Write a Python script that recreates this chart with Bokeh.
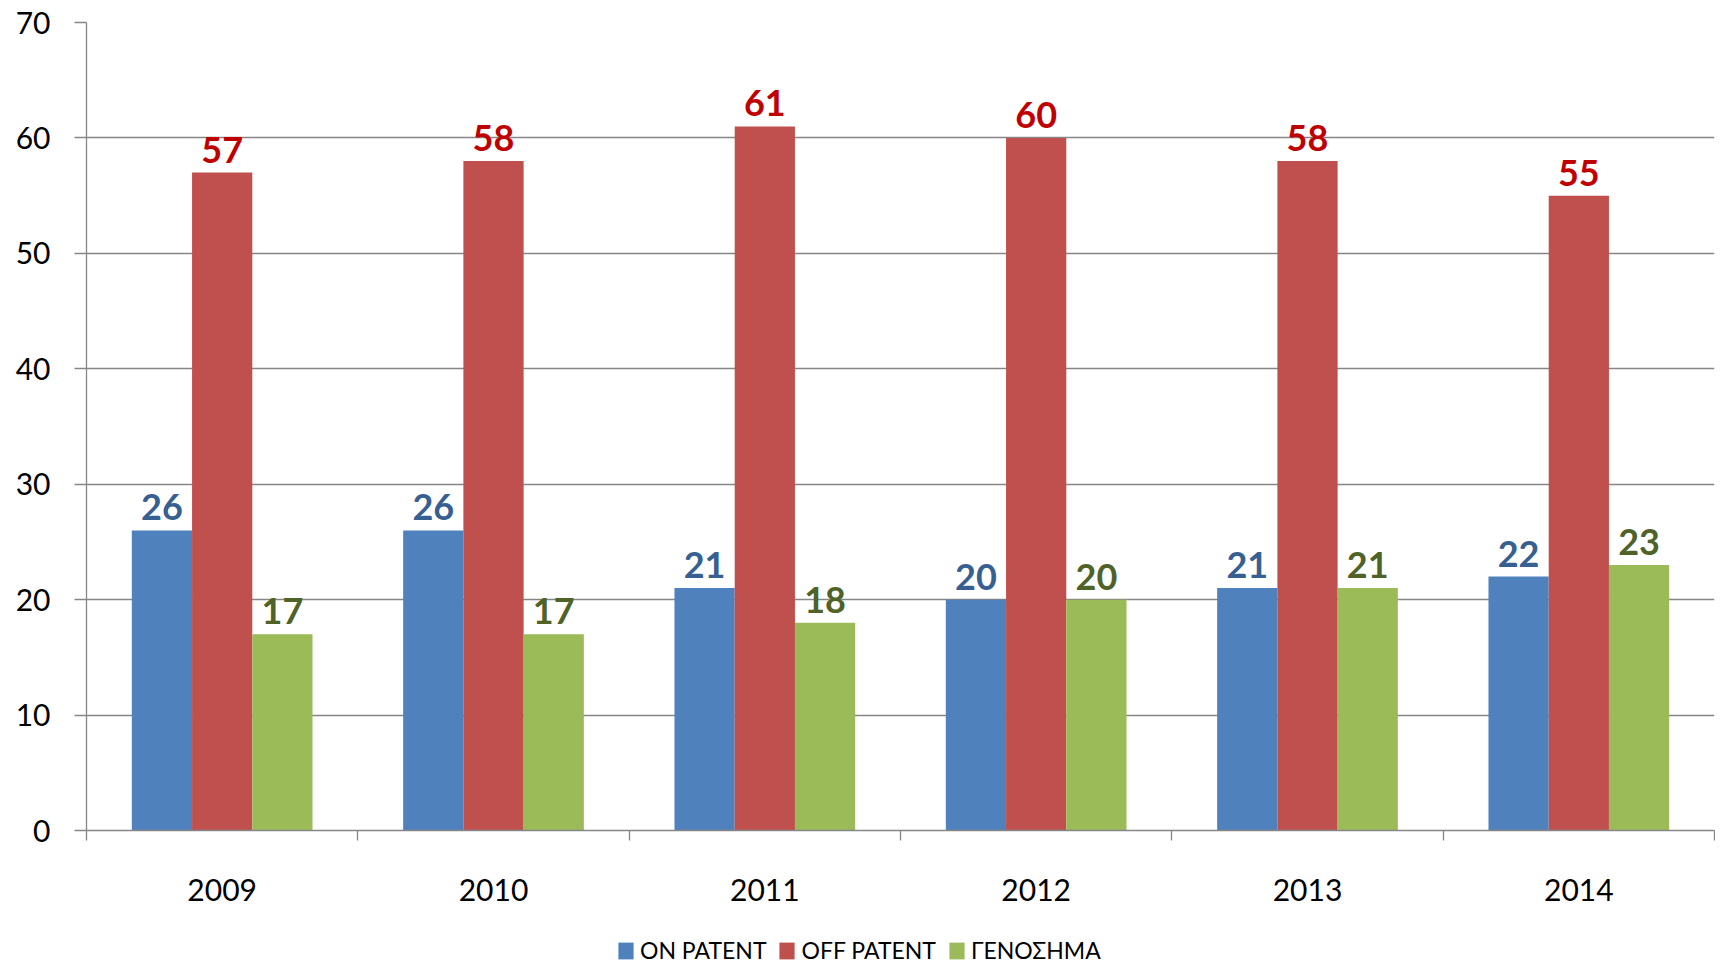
from bokeh.plotting import figure
from bokeh.layouts import column
from bokeh.models import Range1d, FixedTicker, ColumnDataSource, Legend, LegendItem
from bokeh.core.properties import value
from bokeh.embed import file_html
from bokeh.resources import INLINE

years = ["2009", "2010", "2011", "2012", "2013", "2014"]
on_patent = [26, 26, 21, 20, 21, 22]
off_patent = [57, 58, 61, 60, 58, 55]
generics = [17, 17, 18, 20, 21, 23]
series_names = ["ON PATENT", "OFF PATENT", "ΓΕΝΟΣΗΜΑ"]
y_ticks = [0, 10, 20, 30, 40, 50, 60, 70]

bar_colors = ["#4F81BD", "#C0504D", "#9BBB59"]
label_colors = ["#376092", "#C00000", "#4F6228"]
FONT = "Lato"
GRID = "#868686"

p = figure(frame_width=1628, frame_height=808, output_backend="svg", toolbar_location=None,
           x_range=Range1d(0, len(years)), y_range=Range1d(0, 70),
           min_border_left=86, min_border_top=22, min_border_right=1, min_border_bottom=102)
p.outline_line_color = None
p.background_fill_color = "white"
p.border_fill_color = "white"

# y axis
p.yaxis.ticker = FixedTicker(ticks=y_ticks)
p.yaxis.axis_line_color = GRID
p.yaxis.axis_line_width = 1.3
p.yaxis.major_tick_line_color = GRID
p.yaxis.major_tick_line_width = 1.3
p.yaxis.major_tick_out = 12
p.yaxis.major_tick_in = 0
p.yaxis.minor_tick_line_color = None
p.yaxis.major_label_text_font = FONT
p.yaxis.major_label_text_font_size = "30px"
p.yaxis.major_label_text_color = "#000000"
p.yaxis.major_label_standoff = 24
p.ygrid.grid_line_color = GRID
p.ygrid.grid_line_width = 1.3
p.xgrid.grid_line_color = None

# x axis
centers = [i + 0.5 for i in range(len(years))]
p.xaxis.ticker = FixedTicker(ticks=centers, minor_ticks=list(range(len(years) + 1)))
p.xaxis.major_label_overrides = {c: y for c, y in zip(centers, years)}
p.xaxis.axis_line_color = GRID
p.xaxis.axis_line_width = 1.3
p.xaxis.major_tick_line_color = None
p.xaxis.major_tick_out = 0
p.xaxis.major_tick_in = 0
p.xaxis.minor_tick_line_color = GRID
p.xaxis.minor_tick_line_width = 1.3
p.xaxis.minor_tick_out = 10
p.xaxis.minor_tick_in = 0
p.xaxis.major_label_text_font = FONT
p.xaxis.major_label_text_font_size = "30px"
p.xaxis.major_label_text_color = "#000000"
p.xaxis.major_label_standoff = 38

bw = 0.222
series = [on_patent, off_patent, generics]
for k, vals in enumerate(series):
    xs = [c + (k - 1) * bw for c in centers]
    src = ColumnDataSource(dict(x=xs, top=vals, lab=[str(v) for v in vals]))
    p.vbar(x="x", top="top", bottom=0, width=bw, source=src,
           fill_color=bar_colors[k], line_color=None)
    p.text(x="x", y="top", text="lab", source=src, text_align="center",
           text_baseline="alphabetic", y_offset=-23,
           text_font=value(FONT), text_font_style="bold", text_font_size="36px",
           text_color=label_colors[k])

# legend strip (frame is aligned with the main plot's frame)
lg = figure(width=1715, height=32, output_backend="svg", toolbar_location=None,
            x_axis_type=None, y_axis_type=None, x_range=Range1d(0, 1), y_range=Range1d(0, 1),
            min_border=0)
lg.outline_line_color = None
lg.background_fill_color = "white"
lg.border_fill_color = "white"
lg.xgrid.grid_line_color = None
lg.ygrid.grid_line_color = None
# legend-only renderers with zero-size bars (nothing visible)
dummies = [lg.vbar(x=[0.5], top=[0], bottom=0, width=0, fill_color=bar_colors[k], line_color=None)
           for k in range(3)]
legend = Legend(items=[LegendItem(label=series_names[k], renderers=[dummies[k]], index=0) for k in range(3)],
                orientation="horizontal", location=(530, 0),
                glyph_width=19, glyph_height=21, label_standoff=5, spacing=11,
                label_text_font=FONT, label_text_font_size="23px",
                label_text_color="#000000", border_line_color=None,
                background_fill_alpha=0, padding=0, margin=0)
lg.add_layout(legend, "center")

layout = column(p, lg, spacing=0)
open("out.html", "w").write(file_html(layout, INLINE))
